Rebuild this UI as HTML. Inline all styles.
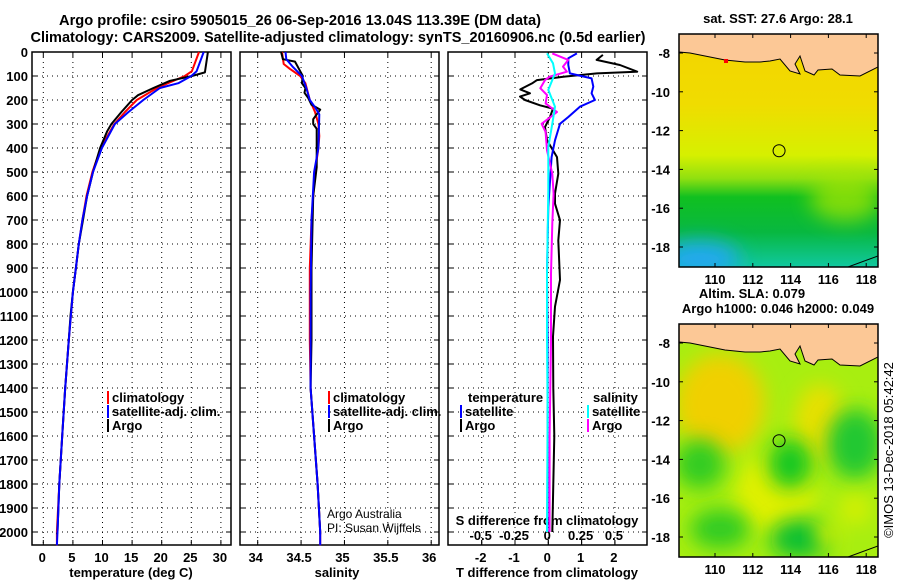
<!DOCTYPE html>
<html><head><meta charset="utf-8"><style>
body{margin:0;background:#fff;}
svg{display:block;font-family:"Liberation Sans",sans-serif;}
.t{font-size:13px;font-weight:bold;fill:#000;}
</style></head><body>
<svg id="c" width="900" height="580" viewBox="0 0 900 580">
<defs>
<linearGradient id="sstg" x1="0" y1="0" x2="0" y2="1">
<stop offset="0" stop-color="#f4d400"/><stop offset="0.3" stop-color="#f0dc00"/><stop offset="0.52" stop-color="#d6f000"/>
<stop offset="0.62" stop-color="#90e010"/><stop offset="0.7" stop-color="#10c020"/><stop offset="0.85" stop-color="#08b840"/>
<stop offset="1" stop-color="#10c8a0"/></linearGradient>
<filter id="blur" x="-60%" y="-60%" width="220%" height="220%"><feGaussianBlur stdDeviation="10"/></filter>
<clipPath id="m1c"><rect x="679" y="34" width="199" height="233"/></clipPath>
<clipPath id="m2c"><rect x="679" y="324" width="199" height="233"/></clipPath>
</defs>
<text class="t" x="300" y="25" text-anchor="middle" textLength="482" lengthAdjust="spacingAndGlyphs" style="font-size:15px">Argo profile: csiro 5905015_26 06-Sep-2016 13.04S 113.39E (DM data)</text>
<text class="t" x="338" y="42" text-anchor="middle" textLength="615" lengthAdjust="spacingAndGlyphs" style="font-size:15px">Climatology: CARS2009. Satellite-adjusted climatology: synTS_20160906.nc (0.5d earlier)</text>
<g id="plots"></g>
<g id="maps"></g>
<text x="893" y="450" transform="rotate(-90 893 450)" text-anchor="middle" style="font-size:13px">©IMOS 13-Dec-2018 05:42:42</text>
</svg>
<script>
// ---- data ----
const depthTicks=[0,100,200,300,400,500,600,700,800,900,1000,1100,1200,1300,1400,1500,1600,1700,1800,1900,2000];
const tempTicks=[0,5,10,15,20,25,30];
const salTicks=[34,34.5,35,35.5,36];
const salTickLabels=["34","34.5","35","35.5","36"];
const tdiffTicks=[-2,-1,0,1,2];
const sdiffTicks=[-0.5,-0.25,0,0.25,0.5];
const sdiffTickLabels=["-0.5","-0.25","0","0.25","0.5"];

const argoTDepth=[0,85,100,120,150,180,200,250,300,330,400,500,600,700,800,900,1000,1100,1200,1400,1600,1800,2000,2010];
const argoTemp=[27.8,27.3,25.1,21.4,18.6,16,15,13.2,11.5,10.8,9.6,8.4,7.4,6.7,6.0,5.5,5.0,4.6,4.3,3.7,3.2,2.7,2.4,2.3];
const climTDepth=[0,80,100,150,200,250,300,400,500,600,700,800,900,1000,1200,1400,1600,1800,2000,2055];
const climTemp=[26.3,25.1,23.9,19.2,15.8,13.8,12.0,9.7,8.3,7.3,6.6,6.0,5.5,5.0,4.3,3.7,3.2,2.7,2.3,2.3];
const satTDepth=[0,80,100,130,150,200,250,300,400,500,600,700,800,900,1000,1200,1400,1600,1800,2000,2055];
const satTemp=[27.1,25.9,25.0,22.8,19.7,16.9,14.4,12.1,9.9,8.4,7.4,6.6,6.0,5.5,5.0,4.3,3.7,3.2,2.7,2.4,2.3];

const argoSDepth=[0,30,40,80,100,130,150,170,190,220,240,260,280,300,320,400,480,600,900,1200,1400,1600,1800,2000,2010];
const argoSal=[34.27,34.29,34.43,34.49,34.52,34.51,34.55,34.54,34.58,34.62,34.72,34.68,34.64,34.64,34.68,34.68,34.68,34.64,34.62,34.62,34.61,34.65,34.69,34.72,34.72];
const climSDepth=[0,50,70,100,130,200,250,300,350,400,500,700,900,1200,1400,1600,1800,2000,2055];
const climSal=[34.28,34.30,34.37,34.49,34.55,34.60,34.66,34.70,34.71,34.70,34.66,34.62,34.60,34.60,34.61,34.65,34.69,34.72,34.72];
const satSDepth=[0,30,60,100,150,200,230,260,400,500,700,1000,1200,1400,1600,1800,2000,2055];
const satSal=[34.32,34.33,34.40,34.51,34.56,34.60,34.66,34.71,34.70,34.65,34.62,34.61,34.61,34.61,34.65,34.69,34.72,34.72];

const argoDTDepth=[12,33,54,82,89,103,117,131,156,172,186,200,222,236,271,313,368,438,507,590,632,701,785,950,1061,1185,1400,1600,1800,2000];
const argoDT=[1.64,1.45,2.15,2.67,1.46,0.45,-0.34,-0.49,-0.84,-0.55,-0.85,-0.7,-0.25,0.14,0.05,-0.1,-0.04,0.26,0.3,0.2,0.2,0.35,0.3,0.35,0.2,0.14,0.15,0.18,0.15,0.12];
const satDTDepth=[6,26,54,89,110,144,172,200,228,271,299,368,438,646,924,1200,1600,2000];
const satDT=[0.86,0.6,0.6,0.65,1.3,1.35,1.3,1.4,0.95,0.6,0.35,0.2,0.1,0.0,-0.04,-0.02,-0.02,-0.03];
const satDSDepth=[6,47,89,158,228,299,396,576,924,1185,1500,2000];
const satDS=[-0.01,0.035,0.05,0.0,0.05,0.03,0.0,0.0,-0.01,-0.01,-0.005,-0.01];
const argoDSDepth=[6,33,61,82,103,117,151,179,214,250,278,299,333,410,507,590,715,924,1200,1600,2000];
const argoDS=[0.03,0.15,0.11,0.14,0.01,-0.025,-0.06,-0.01,-0.02,0.065,0.0,-0.05,-0.02,-0.01,0.03,0.04,0.03,0.02,0.02,0.01,0.01];

// ---- axes ----
const Y0=52, PY=0.24;
const yD=d=>Y0+d*PY;
const xT=t=>43.3+t*5.92;
const xS=s=>257.7+(s-34)*86.75;
const xDT=t=>548.3+t*33.3;
const xDS=s=>548.3+s*4*33.3;
const NS="http://www.w3.org/2000/svg";
const plots=document.getElementById('plots');
function el(tag,attrs,parent,text){const e=document.createElementNS(NS,tag);for(const k in attrs)e.setAttribute(k,attrs[k]);if(text!==undefined)e.textContent=text;(parent||plots).appendChild(e);return e;}
const panels=[{x0:32,x1:231,name:'temperature-panel'},{x0:240,x1:439,name:'salinity-panel'},{x0:448,x1:647,name:'difference-panel'}];
const YB=545;
panels.forEach((p,i)=>{
  const g=el('g',{});
  
  
  depthTicks.forEach(d=>{if(d>0){el('line',{x1:p.x0,x2:p.x1,y1:yD(d),y2:yD(d),stroke:'#000','stroke-width':1,'stroke-dasharray':'1,4'},g);
    el('line',{x1:p.x0,x2:p.x0+5,y1:yD(d),y2:yD(d),stroke:'#000'},g);el('line',{x1:p.x1-5,x2:p.x1,y1:yD(d),y2:yD(d),stroke:'#000'},g);}});
  let xs=[];
  if(i===0)xs=tempTicks.map(xT);
  if(i===1)xs=salTicks.map(xS);
  if(i===2)xs=tdiffTicks.map(xDT);
  xs.forEach(x=>{el('line',{x1:x,x2:x,y1:Y0,y2:YB,stroke:'#000','stroke-dasharray':'1,4'},g);
    el('line',{x1:x,x2:x,y1:Y0,y2:Y0+5,stroke:'#000'},g);el('line',{x1:x,x2:x,y1:YB-5,y2:YB,stroke:'#000'},g);});
  if(i===2)sdiffTicks.forEach(s=>{el('line',{x1:xDS(s),x2:xDS(s),y1:YB-5,y2:YB,stroke:'#000'},g);});
  el('rect',{x:p.x0,y:Y0,width:p.x1-p.x0,height:YB-Y0,fill:'none',stroke:'#000','stroke-width':1.5},g);
});
depthTicks.forEach(d=>{const t=el('text',{x:28,y:yD(d)+5,'text-anchor':'end',class:'t'},plots,String(d));
  
  });
tempTicks.forEach(v=>{const t=el('text',{x:xT(v)-1,y:562,'text-anchor':'middle',class:'t'},plots,String(v));
  
  });
salTicks.forEach((v,k)=>{const t=el('text',{x:xS(v)-2,y:562,'text-anchor':'middle',class:'t'},plots,salTickLabels[k]);
  
  });
tdiffTicks.forEach(v=>{const t=el('text',{x:xDT(v)-1,y:562,'text-anchor':'middle',class:'t'},plots,String(v));
  
  });
sdiffTicks.forEach((v,k)=>{const t=el('text',{x:xDS(v)-1,y:540,'text-anchor':'middle',class:'t'},plots,sdiffTickLabels[k]);
  
  });
[[131,'temperature (deg C)','temperature-axis-title'],[337,'salinity','salinity-axis-title'],[547,'T difference from climatology','tdiff-axis-title']].forEach(a=>{
  const t=el('text',{x:a[0],y:577,'text-anchor':'middle',class:'t'},plots,a[1]);
  
  });
const st=el('text',{x:547,y:525,'text-anchor':'middle',class:'t'},plots,'S difference from climatology');



function line(ds,vs,fx,color,name,w){
  const pts=ds.map((d,k)=>fx(vs[k]).toFixed(1)+','+yD(d).toFixed(1)).join(' ');
  const l=el('polyline',{points:pts,fill:'none',stroke:color,'stroke-width':w||2,'stroke-linejoin':'round'});
  
  
}
line(climTDepth,climTemp,xT,'#f00','temp-climatology-line');
line(argoTDepth,argoTemp,xT,'#000','temp-argo-line');
line(satTDepth,satTemp,xT,'#00f','temp-satellite-line');
line(climSDepth,climSal,xS,'#f00','sal-climatology-line');
line(argoSDepth,argoSal,xS,'#000','sal-argo-line');
line(satSDepth,satSal,xS,'#00f','sal-satellite-line');
line(argoDTDepth,argoDT,xDT,'#000','tdiff-argo-line');
line(satDTDepth,satDT,xDT,'#00f','tdiff-satellite-line');
line(argoDSDepth,argoDS,xDS,'#f0f','sdiff-argo-line');
line(satDSDepth,satDS,xDS,'#0ff','sdiff-satellite-line');

function legend(x,y,color,label,name){
  const g=el('g',{});
  
  
  el('rect',{x:x,y:y-11,width:2,height:13,fill:color},g);
  el('text',{x:x+5,y:y,class:'t'},g,label);
}
legend(107,402,'#f00','climatology','legend-climatology');
legend(107,416,'#00f','satellite-adj. clim.','legend-satellite-adj');
legend(107,430,'#000','Argo','legend-argo');
legend(328,402,'#f00','climatology','legend-sal-climatology');
legend(328,416,'#00f','satellite-adj. clim.','legend-sal-satellite-adj');
legend(328,430,'#000','Argo','legend-sal-argo');
const lt=el('text',{x:468,y:402,class:'t'},plots,'temperature');


const ls=el('text',{x:593,y:402,class:'t'},plots,'salinity');


legend(460,416,'#00f','satellite','legend-t-satellite');
legend(460,430,'#000','Argo','legend-t-argo');
legend(587,416,'#0ff','satellite','legend-s-satellite');
legend(587,430,'#f0f','Argo','legend-s-argo');
const a1=el('text',{x:327,y:518,style:'font-size:12px'},plots,'Argo Australia');


const a2=el('text',{x:327,y:532,style:'font-size:12px'},plots,'PI: Susan Wijffels');



// ---- maps ----
const latTicks=[-8,-10,-12,-14,-16,-18];
const lonTicks=[110,112,114,116,118];
const floatLon=113.39, floatLat=-13.04;
const maps=document.getElementById('maps');
const MX0=679,MX1=878;
const xLon=l=>715+(l-110)*18.9;
function drawMap(top,kind,title){
  const yLat=la=>top+19+(-8-la)*19.4;
  const g=el('g',{},maps);
  
  
  const c=el('g',{'clip-path':kind==='sst'?'url(#m1c)':'url(#m2c)'},g);
  if(kind==='sst'){
    el('rect',{x:MX0,y:top,width:199,height:233,fill:'url(#sstg)'},c);
    el('ellipse',{cx:700,cy:top+225,rx:40,ry:18,fill:'#20a8f0',filter:'url(#blur)'},c);
    el('ellipse',{cx:845,cy:top+165,rx:35,ry:22,fill:'#b0e800',filter:'url(#blur)',opacity:0.7},c);
  } else {
    el('rect',{x:MX0,y:top,width:199,height:233,fill:'#a8ee10'},c);
    el('ellipse',{cx:720,cy:top+80,rx:45,ry:50,fill:'#f0d000',filter:'url(#blur)'},c);
    el('ellipse',{cx:820,cy:top+100,rx:25,ry:40,fill:'#e8e000',filter:'url(#blur)'},c);
    el('ellipse',{cx:775,cy:top+170,rx:40,ry:40,fill:'#e0f000',filter:'url(#blur)'},c);
    el('ellipse',{cx:790,cy:top+140,rx:22,ry:25,fill:'#18c820',filter:'url(#blur)'},c);
    el('ellipse',{cx:700,cy:top+140,rx:25,ry:25,fill:'#30cc20',filter:'url(#blur)'},c);
    el('ellipse',{cx:855,cy:top+120,rx:28,ry:35,fill:'#20c830',filter:'url(#blur)'},c);
    el('ellipse',{cx:800,cy:top+215,rx:30,ry:20,fill:'#10c030',filter:'url(#blur)'},c);
    el('ellipse',{cx:720,cy:top+205,rx:30,ry:20,fill:'#30cc20',filter:'url(#blur)'},c);
    el('ellipse',{cx:855,cy:top+185,rx:15,ry:15,fill:'#d8f000',filter:'url(#blur)'},c);
    el('ellipse',{cx:828,cy:top+210,rx:12,ry:12,fill:'#d8f000',filter:'url(#blur)'},c);
  }
  const land=el('polygon',{points:`679,${top} 878,${top} 878,${top+33} 860,${top+42} 840,${top+41} 832,${top+35} 818,${top+36} 814,${top+41} 805,${top+37} 800,${top+22} 795,${top+30} 800,${top+40} 790,${top+37} 780,${top+25} 770,${top+27} 760,${top+28} 745,${top+28} 725,${top+26} 705,${top+22} 690,${top+19} 679,${top+18}`,fill:'#fcc896',stroke:'#000','stroke-width':1},c);
  
  
  el('rect',{x:679,y:top,width:199,height:5,fill:'#fcc896'},c);
  el('line',{x1:848,y1:top+233,x2:878,y2:top+222,stroke:'#000'},c);
  if(kind==='sst')el('rect',{x:724,y:top+25,width:4,height:4,fill:'#f00'},c);
  const circ=el('circle',{cx:xLon(floatLon),cy:yLat(floatLat),r:6,fill:'none',stroke:'#000'},g);
  
  
  el('rect',{x:MX0,y:top,width:199,height:233,fill:'none',stroke:'#000','stroke-width':1.5},g);
  latTicks.forEach(la=>{el('line',{x1:MX0,x2:MX0+4,y1:yLat(la),y2:yLat(la),stroke:'#000'},g);el('line',{x1:MX1-4,x2:MX1,y1:yLat(la),y2:yLat(la),stroke:'#000'},g);
    const t=el('text',{x:670,y:yLat(la)+5,'text-anchor':'end',class:'t'},g,String(la));
    
    });
  lonTicks.forEach(lo=>{el('line',{x1:xLon(lo),x2:xLon(lo),y1:top+233-4,y2:top+233,stroke:'#000'},g);el('line',{x1:xLon(lo),x2:xLon(lo),y1:top,y2:top+4,stroke:'#000'},g);
    const t=el('text',{x:xLon(lo),y:top+250,'text-anchor':'middle',class:'t'},g,String(lo));
    
    });
  title.forEach((s,k)=>{const t=el('text',{x:k===0&&kind==='sla'?752:778,y:top-(title.length-k)*15+4,'text-anchor':'middle',class:'t'},g,s);
    
    });
}
drawMap(34,'sst',['sat. SST: 27.6 Argo: 28.1']);
drawMap(324,'sla',['Altim. SLA: 0.079','Argo h1000: 0.046 h2000: 0.049']);
</script>
</body></html>
